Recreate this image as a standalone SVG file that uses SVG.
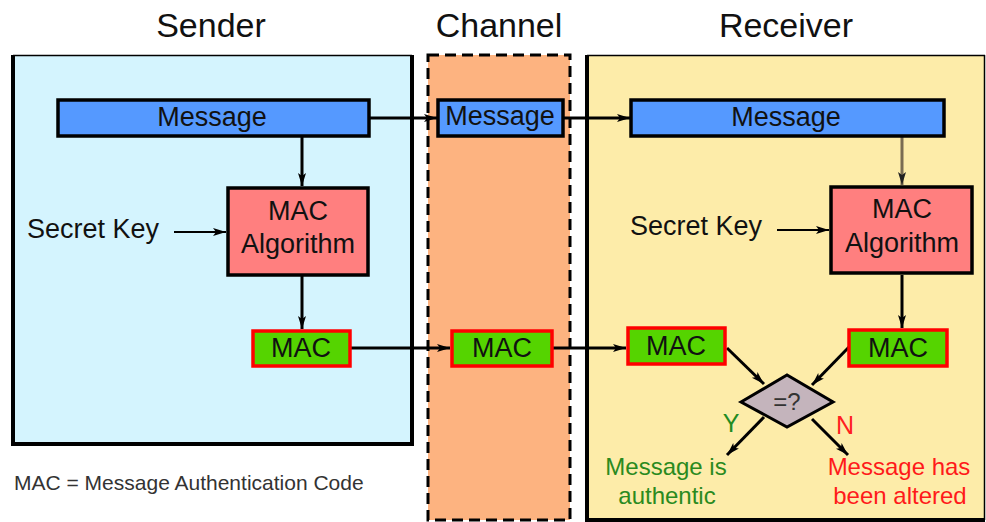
<svg xmlns="http://www.w3.org/2000/svg" width="986" height="522" viewBox="0 0 986 522">
<style>
text{font-family:"Liberation Sans",Arial,sans-serif;fill:#111;}
.title{font-size:34px;text-anchor:middle;}
.lbl{font-size:27px;text-anchor:middle;}
.msg{fill:#5599ff;stroke:#000;stroke-width:3.5;}
.alg{fill:#ff7f7f;stroke:#000;stroke-width:3.5;}
.mac{fill:#55d400;stroke:#ff0000;stroke-width:3.5;}
.ln{stroke:#000;stroke-width:3;fill:none;}
.thin{stroke:#000;stroke-width:2;fill:none;}
</style>
<defs>
<marker id="ah" markerUnits="userSpaceOnUse" markerWidth="14" markerHeight="10" refX="13" refY="5" orient="auto">
<path d="M0,1 L13,5 L0,9 L3,5 Z" fill="#000"/>
</marker>
<marker id="ahg" markerUnits="userSpaceOnUse" markerWidth="14" markerHeight="10" refX="13" refY="5" orient="auto">
<path d="M0,1 L13,5 L0,9 L3,5 Z" fill="#222"/>
</marker>
</defs>
<rect width="986" height="522" fill="#fff"/>
<g id="titles">
<text class="title" x="211" y="37">Sender</text>
<text class="title" x="499" y="37">Channel</text>
<text class="title" x="786" y="37">Receiver</text>
</g>
<g id="sender-panel">
<rect x="13" y="55" width="399" height="390" fill="#d4f4fe"/>
<line x1="13" y1="55.5" x2="412" y2="55.5" stroke="#000" stroke-width="1.5"/>
<path d="M13,55 V444 H412 V55" fill="none" stroke="#000" stroke-width="4"/>
</g>
<g id="channel-panel">
<rect x="428" y="55" width="142" height="465" fill="#fdb380" stroke="#000" stroke-width="3" stroke-dasharray="11,6"/>
</g>
<g id="receiver-panel">
<rect x="587" y="55" width="397" height="465" fill="#fdeca9"/>
<line x1="587" y1="55.5" x2="985" y2="55.5" stroke="#000" stroke-width="1.5"/>
<line x1="984.5" y1="55" x2="984.5" y2="520" stroke="#000" stroke-width="1.5"/>
<path d="M587,55 V520 H985" fill="none" stroke="#000" stroke-width="4"/>
</g>
<g id="connectors">
<line class="ln" x1="369" y1="118" x2="437" y2="118" marker-end="url(#ah)"/>
<line class="ln" x1="563" y1="118" x2="630" y2="118" marker-end="url(#ah)"/>
<line class="ln" x1="302" y1="137" x2="302" y2="186" marker-end="url(#ah)"/>
<line class="thin" x1="174" y1="232" x2="226" y2="232" marker-end="url(#ah)"/>
<line class="ln" x1="302" y1="276" x2="302" y2="329" marker-end="url(#ah)"/>
<line class="ln" x1="351" y1="348" x2="450" y2="348" marker-end="url(#ah)"/>
<line class="ln" x1="553" y1="348" x2="626" y2="348" marker-end="url(#ah)"/>
<line x1="902" y1="137" x2="902" y2="185" stroke="#7a6c52" stroke-width="3" marker-end="url(#ahg)"/>
<line class="thin" x1="777" y1="230" x2="829" y2="230" marker-end="url(#ah)"/>
<line class="ln" x1="902" y1="275" x2="902" y2="328" marker-end="url(#ah)"/>
<line class="ln" x1="727" y1="348" x2="764" y2="384" marker-end="url(#ah)"/>
<line class="ln" x1="849" y1="347" x2="812" y2="385" marker-end="url(#ah)"/>
<line class="ln" x1="764" y1="417" x2="727" y2="455" marker-end="url(#ah)"/>
<line class="ln" x1="812" y1="419" x2="848" y2="455" marker-end="url(#ah)"/>
</g>
<g id="sender-message">
<rect class="msg" x="58" y="100" width="311" height="36"/>
<text class="lbl" x="212" y="126">Message</text>
</g>
<g id="channel-message">
<rect class="msg" x="438" y="100" width="125" height="36"/>
<text class="lbl" x="500" y="125">Message</text>
</g>
<g id="receiver-message">
<rect class="msg" x="631" y="100" width="313" height="36"/>
<text class="lbl" x="786" y="126">Message</text>
</g>
<g id="sender-secret-key">
<text x="27" y="238" style="font-size:27px">Secret Key</text>
</g>
<g id="sender-mac-algorithm">
<rect class="alg" x="228" y="188" width="140" height="87"/>
<text class="lbl" x="298" y="220">MAC</text>
<text class="lbl" x="298" y="253">Algorithm</text>
</g>
<g id="receiver-secret-key">
<text x="630" y="235" style="font-size:27px">Secret Key</text>
</g>
<g id="receiver-mac-algorithm">
<rect class="alg" x="831" y="187" width="141" height="86"/>
<text class="lbl" x="902" y="218">MAC</text>
<text class="lbl" x="902" y="252">Algorithm</text>
</g>
<g id="sender-mac">
<rect class="mac" x="253" y="331" width="97" height="35"/>
<text class="lbl" x="301" y="357">MAC</text>
</g>
<g id="channel-mac">
<rect class="mac" x="452" y="331" width="100" height="35"/>
<text class="lbl" x="502" y="357">MAC</text>
</g>
<g id="receiver-mac-left">
<rect class="mac" x="628" y="328" width="97" height="36"/>
<text class="lbl" x="676" y="355">MAC</text>
</g>
<g id="receiver-mac-right">
<rect class="mac" x="849" y="330" width="98" height="36"/>
<text class="lbl" x="898" y="357">MAC</text>
</g>
<g id="compare">
<polygon points="741,402 787,375 833,402 787,427" fill="#c4b4bc" stroke="#000" stroke-width="3"/>
<text x="787" y="410" style="font-size:24px;text-anchor:middle;fill:#333">=?</text>
</g>
<g id="outcomes">
<text x="731" y="432" style="font-size:25px;text-anchor:middle;fill:#228b22">Y</text>
<text x="845" y="434" style="font-size:25px;text-anchor:middle;fill:#ff2020">N</text>
<text x="666" y="475" style="font-size:24px;text-anchor:middle;fill:#2a8a20">Message is</text>
<text x="667" y="504" style="font-size:24px;text-anchor:middle;fill:#2a8a20">authentic</text>
<text x="899" y="475" style="font-size:24px;text-anchor:middle;fill:#ff1a1a">Message has</text>
<text x="900" y="504" style="font-size:24px;text-anchor:middle;fill:#ff1a1a">been altered</text>
</g>
<g id="legend">
<text x="14" y="490" style="font-size:21px;fill:#333">MAC = Message Authentication Code</text>
</g>
</svg>
